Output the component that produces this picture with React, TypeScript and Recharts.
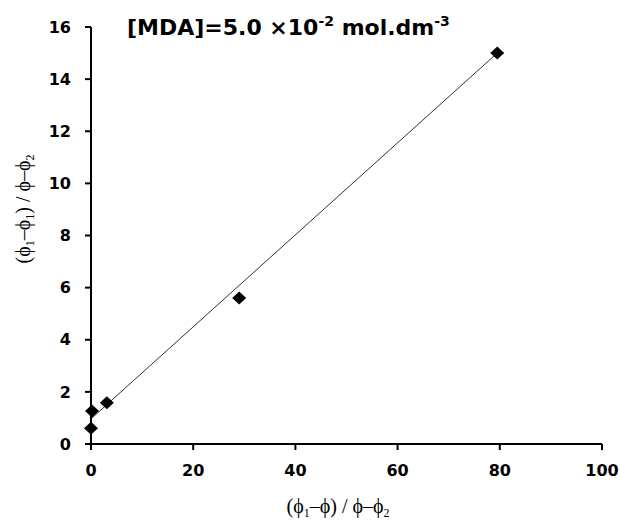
import React from 'react';
import { ScatterChart, Scatter, XAxis, YAxis, Customized } from 'recharts';

const pointX = [0, 0.2, 3.1, 29, 79.5];
const pointY = [0.6, 1.27, 1.58, 5.6, 15.0];
const trendX = [0.2, 79.5];
const trendY = [1.0, 15.0];
const xTicks = [0, 20, 40, 60, 80, 100];
const yTicks = [0, 2, 4, 6, 8, 10, 12, 14, 16];

const points = pointX.map((x, i) => ({ x, y: pointY[i] }));
const trend = trendX.map((x, i) => ({ x, y: trendY[i] }));

const Diamond = (props: any) => {
  const { cx, cy } = props;
  const rx = 7;
  const ry = 6.5;
  return (
    <polygon
      points={`${cx},${cy - ry} ${cx + rx},${cy} ${cx},${cy + ry} ${cx - rx},${cy}`}
      fill="#000"
    />
  );
};

const NoShape = () => <g />;

const tickStyle = {
  fontFamily: '"DejaVu Sans", Verdana, sans-serif',
  fontWeight: 'bold' as const,
  fontSize: 16,
  fill: '#000',
};

const serif = '"Liberation Serif", "Times New Roman", serif';

const Texts = () => (
  <g>
    <text
      x={127}
      y={35}
      fontFamily='"DejaVu Sans", Verdana, sans-serif'
      fontWeight="bold"
      fontSize={22}
      fill="#000"
    >
      <tspan>[MDA]=5.0 ×10</tspan>
      <tspan dy={-9} fontSize={14}>-2</tspan>
      <tspan dy={9}> mol.dm</tspan>
      <tspan dy={-9} fontSize={14}>-3</tspan>
    </text>
    <text x={338} y={513} textAnchor="middle" fontFamily={serif} fontSize={20} fill="#000">
      <tspan>(ϕ</tspan>
      <tspan dy={4} fontSize={12}>1</tspan>
      <tspan dy={-4}>–ϕ) / ϕ–ϕ</tspan>
      <tspan dy={4} fontSize={12}>2</tspan>
    </text>
    <text
      transform="rotate(-90)"
      x={-209}
      y={30}
      textAnchor="middle"
      fontFamily={serif}
      fontSize={20}
      fill="#000"
    >
      <tspan>(ϕ</tspan>
      <tspan dy={4} fontSize={12}>1</tspan>
      <tspan dy={-4}>–ϕ</tspan>
      <tspan dy={4} fontSize={12}>1</tspan>
      <tspan dy={-4}>) / ϕ–ϕ</tspan>
      <tspan dy={4} fontSize={12}>2</tspan>
    </text>
  </g>
);

export default function App() {
  return (
    <div style={{ position: 'absolute', left: 0, top: 0, background: '#fff' }}>
      <ScatterChart
        width={620}
        height={522}
        margin={{ top: 27, right: 18, bottom: 38, left: 31 }}
      >
        <XAxis
          type="number"
          dataKey="x"
          domain={[0, 100]}
          ticks={xTicks}
          interval={0}
          height={40}
          axisLine={{ stroke: '#000', strokeWidth: 2 }}
          tickLine={{ stroke: '#000', strokeWidth: 2 }}
          tickSize={6}
          tickMargin={15}
          tick={tickStyle}
        />
        <YAxis
          type="number"
          dataKey="y"
          domain={[0, 16]}
          ticks={yTicks}
          interval={0}
          width={60}
          axisLine={{ stroke: '#000', strokeWidth: 2 }}
          tickLine={{ stroke: '#000', strokeWidth: 2 }}
          tickSize={6}
          tickMargin={14}
          tick={tickStyle}
        />
        <Scatter
          data={trend}
          line={{ stroke: '#333', strokeWidth: 1 }}
          shape={NoShape}
          isAnimationActive={false}
        />
        <Scatter data={points} shape={Diamond} isAnimationActive={false} />
        <Customized component={Texts} />
      </ScatterChart>
    </div>
  );
}
